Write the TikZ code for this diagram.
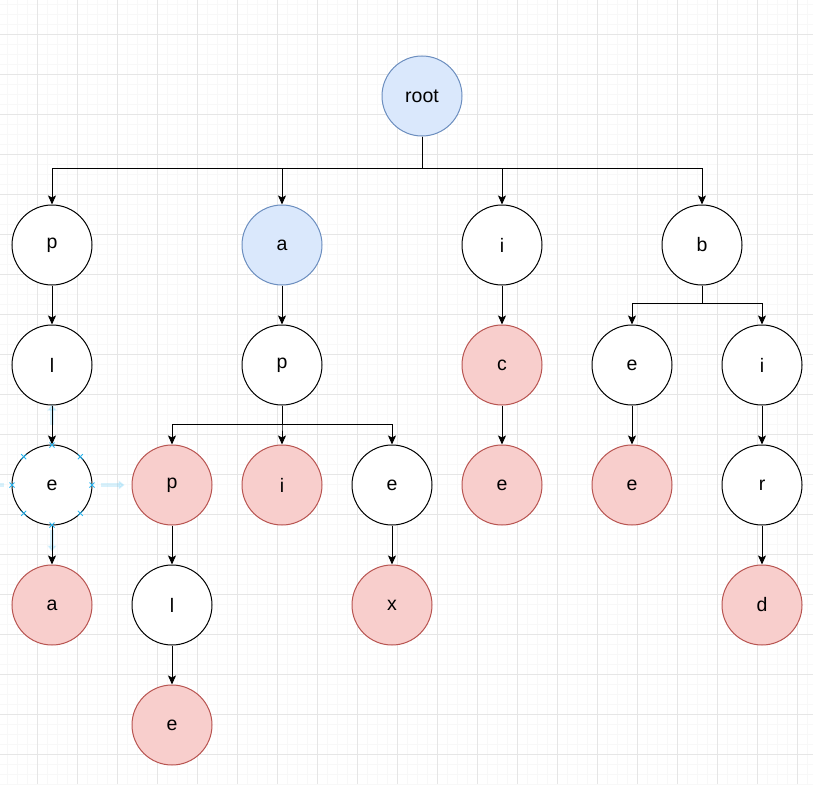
\documentclass[tikz,border=0pt]{standalone}
\usepackage{fontspec}
\setmainfont{Liberation Sans}
\usetikzlibrary{arrows.meta,positioning,calc}
\definecolor{Ink}{HTML}{000000}
\definecolor{BlueSoft}{HTML}{DAE8FC}
\definecolor{BlueLine}{HTML}{6C8EBF}
\definecolor{RedSoft}{HTML}{F8CECC}
\definecolor{RedLine}{HTML}{B85450}
\definecolor{GridMinor}{HTML}{F8F8F8}
\definecolor{GridMajor}{HTML}{E6E6E6}
\definecolor{Hover}{HTML}{29B6F2}
\tikzset{
  trie/.style={circle,draw=Ink,line width=1pt,minimum size=80pt,inner sep=0pt,fill=white,text=Ink,font=\fontsize{19.5}{22}\selectfont},
  trieblue/.style={trie,draw=BlueLine,fill=BlueSoft},
  triered/.style={trie,draw=RedLine,fill=RedSoft},
  arrow/.style={-{Stealth[length=9pt,width=8pt,inset=2pt]},line width=1pt,draw=Ink},
  hoverArrow/.style={-{Triangle[length=6pt,width=9pt]},line width=3.5pt,draw=Hover,opacity=.18},
  pin/.style={draw=Hover,line width=.8pt}
}

\begin{document}
\begin{tikzpicture}[x=1pt,y=-1pt]
\useasboundingbox (0,0) rectangle (813,784);
% grid
\fill[white] (0,0) rectangle (813,784);
\foreach \x in {7,17,...,807} \draw[GridMinor,line width=.8pt] (\x,0) -- (\x,784);
\foreach \y in {4,14,...,784} \draw[GridMinor,line width=.8pt] (0,\y) -- (813,\y);
\foreach \x in {37,77,...,797} \draw[GridMajor,line width=.8pt] (\x,0) -- (\x,784);
\foreach \y in {34,74,...,774} \draw[GridMajor,line width=.8pt] (0,\y) -- (813,\y);

% nodes
\node[trieblue] (root) at (422,96) {root};
\node[trie] (p) at (52,245) {p};
\node[trieblue] (a) at (282,245) {a};
\node[trie] (i) at (502,245) {i};
\node[trie] (b) at (702,245) {b};

\node[trie] (pl) at (52,365) {l};
\node[trie] (ple) at (52,485) {e};
\node[triered] (plea) at (52,605) {a};

\node[trie] (ap) at (282,365) {p};
\node[triered] (app) at (172,485) {p};
\node[trie] (appl) at (172,605) {l};
\node[triered] (apple) at (172,725) {e};
\node[triered] (api) at (282,485) {i};
\node[trie] (ape) at (392,485) {e};
\node[triered] (apex) at (392,605) {x};

\node[triered] (ic) at (502,365) {c};
\node[triered] (ice) at (502,485) {e};

\node[trie] (be) at (632,365) {e};
\node[triered] (bee) at (632,485) {e};
\node[trie] (bi) at (762,365) {i};
\node[trie] (bir) at (762,485) {r};
\node[triered] (bird) at (762,605) {d};

% bus points
\coordinate (busRoot) at (422,168);
\coordinate (busB) at (702,303);
\coordinate (busAp) at (282,424);

% selection hover arrows on ple
\draw[hoverArrow] ($(ple.north)+(0,-20)$) -- ++(0,-20);
\draw[hoverArrow] ($(ple.east)+(8,0)$) -- ++(24,0);
\draw[hoverArrow] ($(ple.south)+(0,4)$) -- ++(0,22);
\draw[hoverArrow] ($(ple.west)+(-8,0)$) -- ++(-24,0);

% connectors
\foreach \c in {p,a,i,b} \draw[arrow] (root.south) -- (busRoot) -| (\c.north);
\foreach \c in {be,bi} \draw[arrow] (b.south) -- (busB) -| (\c.north);
\foreach \c in {app,api,ape} \draw[arrow] (ap.south) -- (busAp) -| (\c.north);
\draw[arrow] (p) -- (pl);
\draw[arrow] (pl) -- (ple);
\draw[arrow] (ple) -- (plea);
\draw[arrow] (a) -- (ap);
\draw[arrow] (app) -- (appl);
\draw[arrow] (appl) -- (apple);
\draw[arrow] (ape) -- (apex);
\draw[arrow] (i) -- (ic);
\draw[arrow] (ic) -- (ice);
\draw[arrow] (be) -- (bee);
\draw[arrow] (bi) -- (bir);
\draw[arrow] (bir) -- (bird);

% selection marks on ple
\foreach \a in {0,45,...,315}
  \draw[pin] ($(ple.center)+(\a:40)+(-2.5,-2.5)$) -- ++(5,5)
             ($(ple.center)+(\a:40)+(-2.5,2.5)$) -- ++(5,-5);
\end{tikzpicture}
\end{document}
